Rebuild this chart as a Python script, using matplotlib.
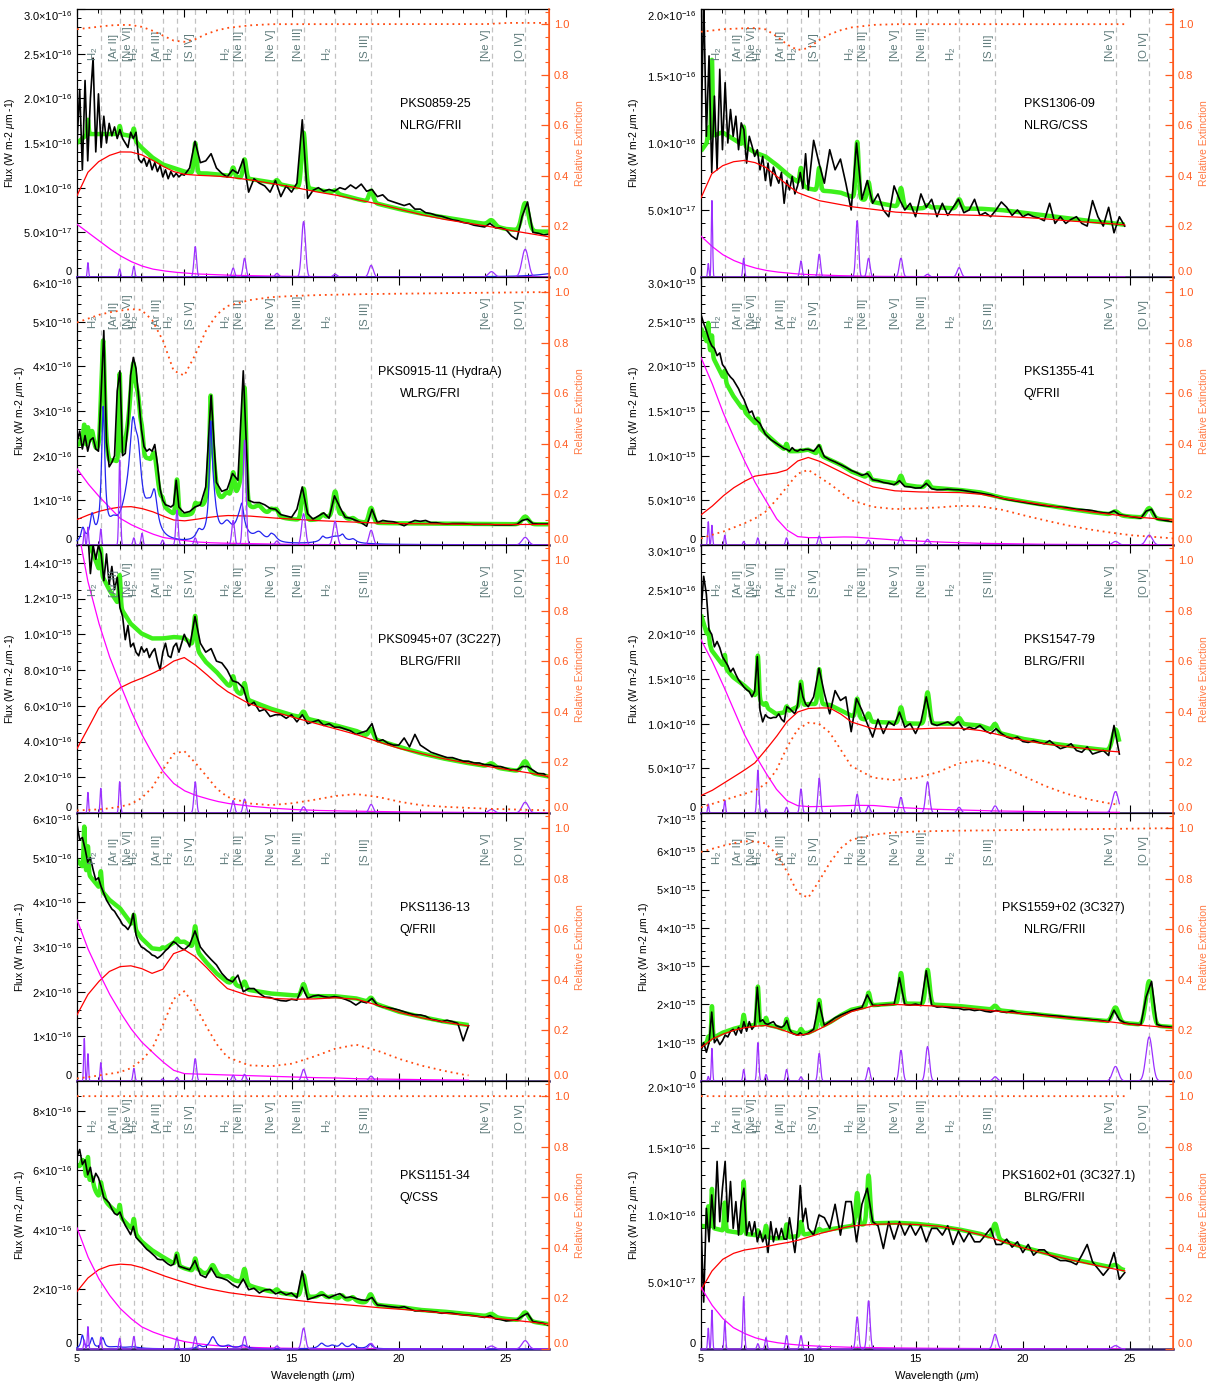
import numpy as np
import matplotlib
matplotlib.use('Agg')
import matplotlib.pyplot as plt
from matplotlib.ticker import FixedLocator, FixedFormatter, MultipleLocator
import matplotlib.transforms as mtransforms

plt.rcParams['font.family'] = ['Liberation Sans', 'DejaVu Sans']
plt.rcParams['mathtext.fontset'] = 'custom'
plt.rcParams['mathtext.rm'] = 'Liberation Sans'
plt.rcParams['mathtext.it'] = 'Liberation Sans:italic'
plt.rcParams['mathtext.bf'] = 'Liberation Sans:bold'

# ---------------- shared grids ----------------
# wavelength grid (micron) on which the smooth model components were read
W = [5, 5.5, 6, 6.5, 7, 7.5, 8, 8.5, 9, 9.5, 10, 10.5, 11, 11.5, 12,
     13, 14, 15, 16, 17, 18, 19, 20, 21, 22, 23, 24, 25, 26, 27]
# wavelength sampling of the observed (black) spectra
XB = np.concatenate([np.arange(5.0, 10.0, 0.125), np.arange(10.0, 27.001, 0.25)])

# emission lines: centre, width (sigma)
LINE_WL = [5.34, 5.51, 6.11, 6.99, 7.65, 8.03, 8.99, 9.66, 10.51, 12.28, 12.81,
           14.32, 15.56, 17.03, 18.71, 24.32, 25.89]
LINE_SIG = [0.03, 0.03, 0.035, 0.04, 0.045, 0.045, 0.05, 0.055, 0.06, 0.065, 0.07,
            0.08, 0.09, 0.095, 0.1, 0.14, 0.15]
# labelled (dashed) lines
LABEL_WL = [6.11, 6.99, 7.65, 8.03, 8.99, 9.66, 10.51, 12.28, 12.81, 14.32, 15.56,
            17.03, 18.71, 24.32, 25.89]
LABEL_TXT = ['H$_2$', '[Ar II]', '[Ne VI]', 'H$_2$', '[Ar III]', 'H$_2$', '[S IV]',
             'H$_2$', '[Ne II]', '[Ne V]', '[Ne III]', 'H$_2$', '[S III]', '[Ne V]', '[O IV]']

# ---------------- PKS0859-25 (units 1e-16) ----------------
RED_L1 = [0.91, 1.17, 1.29, 1.36, 1.40, 1.40, 1.37, 1.31, 1.24, 1.18, 1.15, 1.14, 1.135, 1.13, 1.12,
          1.09, 1.05, 1.01, 0.96, 0.92, 0.87, 0.82, 0.76, 0.70, 0.65, 0.61, 0.575, 0.53, 0.49, 0.45]
MAG_L1 = [0.59, 0.50, 0.41, 0.32, 0.24, 0.175, 0.125, 0.09, 0.07, 0.055, 0.045, 0.035, 0.03, 0.025, 0.02,
          0.015, 0.01, 0.007, 0.005, 0.004, 0.003, 0.002, 0.002, 0.001, 0.001, 0.001, 0.0, 0.0, 0.0, 0.0]
GRN_L1 = [1.5, 1.6, 1.6, 1.6, 1.6, 1.58, 1.45, 1.34, 1.26, 1.22, 1.18, 1.16, 1.16, 1.15, 1.135,
          1.10, 1.06, 1.01, 0.985, 0.94, 0.875, 0.82, 0.76, 0.71, 0.67, 0.63, 0.59, 0.53, 0.50, 0.47]
EXT_L1 = [0.98, 0.985, 0.99, 0.995, 0.997, 0.997, 0.99, 0.975, 0.955, 0.935, 0.93, 0.94, 0.96, 0.975, 0.985,
          0.995, 1.0, 1.0, 1.0, 1.0, 1.0, 1.0, 1.0, 1.0, 1.0, 1.0, 1.0, 1.005, 1.005, 1.005]
LINES_L1 = [0, 0.16, 0, 0.09, 0.12, 0, 0, 0, 0.34, 0.10, 0.21, 0.04, 0.62, 0.03, 0.13, 0.06, 0.31]
BLUE_L1 = [(28.0, 0.07, 0.08)]
BLACK_L1 = [1.5, 2.1, 1.2, 2.2, 1.3, 2.0, 2.45, 1.4,
            2.05, 1.45, 1.8, 1.5, 1.72, 1.58, 1.68, 1.55,
            1.65, 1.55, 1.5, 1.45, 1.62, 1.55, 1.62, 1.32,
            1.28, 1.33, 1.24, 1.32, 1.2, 1.28, 1.18, 1.25,
            1.12, 1.2, 1.1, 1.18, 1.12, 1.16, 1.12, 1.15,
            1.14, 1.22, 1.52, 1.28, 1.3, 1.38, 1.22, 1.16,
            1.12, 1.2, 1.16, 1.32, 0.95, 1.1, 1.05, 1.02,
            0.95, 1.08, 0.9, 1.02, 0.95, 1.05, 1.76, 0.88,
            0.97, 1.0, 0.96, 0.98, 0.96, 1.0, 0.98, 1.03,
            0.99, 1.04, 0.96, 0.98, 0.9, 0.92, 0.86, 0.84,
            0.82, 0.8, 0.82, 0.76, 0.76, 0.72, 0.71, 0.69,
            0.68, 0.66, 0.64, 0.63, 0.61, 0.6, 0.58, 0.57,
            0.56, 0.6, 0.55, 0.55, 0.53, 0.46, 0.42, 0.68,
            0.84, 0.5, 0.49, 0.47, 0.48]

# ---------------- PKS0915-11 Hydra A (units 1e-16) ----------------
RED_L2 = [0.57, 0.67, 0.75, 0.81, 0.85, 0.86, 0.82, 0.75, 0.65, 0.56, 0.54, 0.57, 0.61, 0.64, 0.66,
          0.65, 0.61, 0.58, 0.55, 0.53, 0.51, 0.49, 0.48, 0.475, 0.47, 0.465, 0.46, 0.46, 0.46, 0.46]
MAG_L2 = [1.71, 1.38, 1.10, 0.85, 0.60, 0.46, 0.35, 0.25, 0.17, 0.13, 0.10, 0.07, 0.055, 0.045, 0.04,
          0.03, 0.02, 0.015, 0.01, 0.008, 0.006, 0.005, 0.004, 0.003, 0.002, 0.002, 0.001, 0.001, 0.0, 0.0]
GRN_L2 = [2.15, 1.95, 1.65, 1.25, 1.2, 1.1, 0.95, 0.85, 0.6, 0.55, 0.55, 0.55, 0.56, 0.58, 0.62,
          0.6, 0.55, 0.53, 0.5, 0.47, 0.46, 0.47, 0.47, 0.47, 0.47, 0.466, 0.462, 0.46, 0.46, 0.46]
EXT_L2 = [0.88, 0.895, 0.91, 0.92, 0.927, 0.933, 0.93, 0.89, 0.81, 0.69, 0.67, 0.75, 0.846, 0.91, 0.945,
          0.968, 0.98, 0.985, 0.988, 0.99, 0.992, 0.993, 0.994, 0.995, 0.996, 0.997, 0.998, 0.999, 1.0, 1.0]
LINES_L2 = [0.35, 0.4, 0.36, 1.9, 0.16, 0.26, 0.11, 0.78, 0.16, 0.55, 2.35, 0.09, 0.7, 0.53, 0.33, 0, 0.17]
BLUE_L2 = [(5.27, 0.3, 0.04), (5.70, 0.55, 0.04), (6.22, 2.9, 0.03), (6.69, 0.25, 0.07),
           (7.42, 0.8, 0.12), (7.60, 1.6, 0.045), (7.85, 1.3, 0.05), (8.33, 0.35, 0.05),
           (8.61, 0.85, 0.04), (10.68, 0.2, 0.03), (11.23, 1.9, 0.012), (11.33, 1.0, 0.032),
           (11.99, 0.35, 0.045), (12.62, 0.55, 0.042), (12.69, 0.3, 0.013), (13.48, 0.2, 0.04),
           (14.04, 0.1, 0.016), (14.19, 0.12, 0.025), (16.45, 0.1, 0.014), (17.04, 0.17, 0.065),
           (17.38, 0.1, 0.012), (17.87, 0.07, 0.016)]
BLACK_L2 = [2.3, 2.55, 2.15, 2.45, 2.1, 2.35, 2.4, 2.15,
            2.1, 3.4, 4.8, 2.3, 1.75, 1.85, 2.0, 3.45,
            3.9, 2.0, 2.05, 2.7, 3.8, 4.2, 3.95, 3.3,
            2.6, 2.2, 2.1, 2.15, 2.1, 2.25, 1.8, 1.25,
            1.0, 0.9, 0.88, 0.85, 0.9, 1.45, 0.85, 0.78,
            0.72, 0.75, 0.85, 0.9, 1.3, 3.35, 1.4, 1.2,
            1.25, 1.6, 1.45, 3.9, 1.0, 0.95, 0.95, 0.9,
            0.82, 0.8, 0.68, 0.65, 0.62, 0.8, 1.3, 0.7,
            0.58, 0.65, 0.72, 0.6, 1.1, 0.85, 0.62, 0.6,
            0.55, 0.5, 0.42, 0.8, 0.5, 0.55, 0.53, 0.52,
            0.48, 0.43, 0.5, 0.55, 0.53, 0.55, 0.5, 0.5,
            0.48, 0.47, 0.48, 0.48, 0.48, 0.47, 0.46, 0.46,
            0.46, 0.46, 0.45, 0.45, 0.45, 0.45, 0.46, 0.55,
            0.58, 0.48, 0.47, 0.47, 0.47]

# ---------------- PKS0945+07 3C227 (units 1e-15) ----------------
RED_L3 = [0.36, 0.47, 0.585, 0.65, 0.70, 0.73, 0.753, 0.78, 0.81, 0.85, 0.87, 0.83, 0.78, 0.725, 0.68,
          0.613, 0.572, 0.539, 0.505, 0.473, 0.44, 0.40, 0.362, 0.334, 0.306, 0.283, 0.263, 0.244, 0.226, 0.203]
MAG_L3 = [1.62, 1.30, 1.07, 0.88, 0.725, 0.576, 0.445, 0.334, 0.235, 0.166, 0.125, 0.10, 0.082, 0.066, 0.054,
          0.039, 0.028, 0.02, 0.015, 0.012, 0.01, 0.008, 0.006, 0.005, 0.004, 0.003, 0.002, 0.002, 0.001, 0.001]
GRN_L3 = [1.62, 1.53, 1.37, 1.25, 1.155, 1.06, 1.005, 0.977, 0.977, 0.985, 0.98, 0.93, 0.846, 0.79, 0.72,
          0.632, 0.585, 0.548, 0.52, 0.492, 0.46, 0.408, 0.371, 0.335, 0.307, 0.284, 0.264, 0.245, 0.227, 0.204]
EXT_L3 = [0.01, 0.012, 0.014, 0.018, 0.025, 0.035, 0.058, 0.10, 0.17, 0.234, 0.245, 0.20, 0.15, 0.097, 0.064,
          0.038, 0.031, 0.038, 0.051, 0.067, 0.075, 0.064, 0.045, 0.031, 0.025, 0.021, 0.017, 0.015, 0.013, 0.01]
LINES_L3 = [0, 0.115, 0.138, 0.175, 0, 0, 0, 0, 0.175, 0.07, 0.078, 0, 0.035, 0, 0.048, 0.02, 0.06]
BLUE_L3 = []
BLACK_L3 = [1.7, 1.65, 1.75, 1.62, 1.58, 1.34, 1.5, 1.42,
            1.5, 1.45, 1.3, 1.45, 1.28, 1.38, 1.25, 1.32,
            1.15, 1.1, 0.97, 1.05, 0.93, 0.95, 0.9, 0.88,
            0.93, 0.9, 0.92, 0.87, 0.9, 0.92, 0.85, 0.80,
            0.9, 0.95, 0.88, 0.87, 0.93, 0.95, 0.9, 0.95,
            1.0, 0.93, 1.1, 0.95, 0.9, 0.92, 0.85, 0.84,
            0.8, 0.74, 0.73, 0.70, 0.6, 0.62, 0.57, 0.58,
            0.54, 0.55, 0.55, 0.53, 0.55, 0.51, 0.55, 0.5,
            0.51, 0.52, 0.49, 0.5, 0.48, 0.48, 0.47, 0.46,
            0.44, 0.45, 0.46, 0.5, 0.4, 0.41, 0.39, 0.38,
            0.38, 0.42, 0.37, 0.44, 0.38, 0.36, 0.34, 0.33,
            0.32, 0.31, 0.31, 0.3, 0.29, 0.29, 0.28, 0.28,
            0.27, 0.27, 0.26, 0.26, 0.25, 0.24, 0.24, 0.26,
            0.26, 0.24, 0.22, 0.22, 0.2]

# ---------------- PKS1136-13 (units 1e-16) ----------------
RED_L4 = [1.48, 1.93, 2.22, 2.45, 2.56, 2.58, 2.52, 2.41, 2.5, 2.85, 2.94, 2.79, 2.56, 2.30, 2.07,
          1.91, 1.85, 1.83, 1.835, 1.865, 1.835, 1.70, 1.54, 1.42, 1.33, 1.25, 1.18]
MAG_L4 = [3.61, 2.97, 2.45, 1.96, 1.55, 1.18, 0.88, 0.65, 0.43, 0.24, 0.165, 0.157, 0.15, 0.142, 0.135,
          0.12, 0.105, 0.09, 0.075, 0.07, 0.05, 0.045, 0.04, 0.03, 0.025, 0.02, 0.018]
GRN_L4 = [4.95, 4.65, 4.35, 4.06, 3.87, 3.54, 3.2, 2.97, 2.94, 3.1, 3.12, 2.97, 2.67, 2.41, 2.22,
          2.04, 1.96, 1.92, 1.90, 1.90, 1.85, 1.715, 1.55, 1.44, 1.34, 1.27, 1.2]
EXT_L4 = [0.01, 0.015, 0.022, 0.028, 0.035, 0.05, 0.081, 0.127, 0.22, 0.324, 0.355, 0.298, 0.22, 0.147, 0.095,
          0.062, 0.058, 0.068, 0.095, 0.127, 0.144, 0.12, 0.088, 0.062, 0.042, 0.025, 0.015]
LINES_L4 = [0.95, 0.61, 0.41, 0, 0.28, 0, 0.05, 0.08, 0.50, 0.13, 0.15, 0, 0.26, 0, 0.11, 0, 0]
BLUE_L4 = []
BLACK_L4 = [5.75, 5.4, 5.45, 5.2, 4.9, 5.0, 4.73, 4.5,
            4.55, 4.35, 4.2, 4.05, 3.95, 3.85, 3.8, 3.7,
            3.61, 3.5, 3.46, 3.39, 3.5, 3.75, 3.27, 3.1,
            3.0, 2.97, 2.92, 2.88, 2.82, 2.8, 2.75, 2.79,
            2.85, 2.92, 2.97, 3.05, 3.12, 3.08, 3.02, 2.97,
            2.94, 3.05, 3.36, 3.0, 2.85, 2.72, 2.6, 2.41,
            2.28, 2.22, 2.37, 2.0, 2.07, 2.07, 1.96, 1.88,
            1.87, 1.83, 1.8, 1.79, 1.83, 1.81, 2.1, 1.85,
            1.9, 1.92, 1.89, 1.87, 1.89, 1.87, 1.83, 1.78,
            1.7, 1.78, 1.75, 1.85, 1.70, 1.66, 1.64, 1.62,
            1.59, 1.55, 1.51, 1.48, 1.48, 1.45, 1.38, 1.36,
            1.33, 1.36, 1.33, 1.29, 0.9, 1.24]

# ---------------- PKS1151-34 (units 1e-16) ----------------
RED_L5 = [1.93, 2.38, 2.66, 2.80, 2.85, 2.83, 2.74, 2.61, 2.47, 2.35, 2.24, 2.13, 2.04, 1.97, 1.90,
          1.80, 1.73, 1.65, 1.57, 1.52, 1.46, 1.39, 1.34, 1.28, 1.21, 1.15, 1.07, 0.99, 0.92, 0.83]
MAG_L5 = [4.07, 3.11, 2.38, 1.82, 1.37, 1.03, 0.75, 0.58, 0.45, 0.34, 0.25, 0.19, 0.146, 0.11, 0.09,
          0.056, 0.034, 0.022, 0.015, 0.01, 0.007, 0.005, 0.004, 0.003, 0.002, 0.002, 0.001, 0.001, 0.0, 0.0]
GRN_L5 = [6.15, 5.6, 5.05, 4.75, 4.4, 4.0, 3.58, 3.3, 3.08, 2.87, 2.7, 2.58, 2.45, 2.38, 2.32,
          2.1, 1.93, 1.82, 1.72, 1.62, 1.56, 1.46, 1.41, 1.31, 1.26, 1.19, 1.11, 1.01, 0.94, 0.83]
EXT_L5 = [1.0, 1.0, 1.0, 1.0, 1.0, 1.0, 1.0, 1.0, 1.0, 1.0, 1.0, 1.0, 1.0, 1.0, 1.0,
          1.0, 1.0, 1.0, 1.0, 1.0, 1.0, 1.0, 1.0, 1.0, 1.0, 1.0, 1.0, 1.0, 1.0, 1.0]
LINES_L5 = [0.3, 0.75, 0.4, 0.36, 0.42, 0, 0, 0.38, 0.42, 0, 0.42, 0.1, 0.7, 0, 0.19, 0.1, 0.28]
BLUE_L5 = [(5.25, 0.45, 0.03), (5.70, 0.35, 0.03), (6.2, 0.35, 0.03), (6.8, 0.06, 0.1), (7.6, 0.06, 0.1),
           (10.7, 0.1, 0.02), (11.33, 0.4, 0.03), (12.05, 0.1, 0.03), (12.75, 0.12, 0.03),
           (16.4, 0.18, 0.02), (16.9, 0.1, 0.02), (17.35, 0.17, 0.015), (17.85, 0.15, 0.015),
           (18.65, 0.16, 0.015)]
BLACK_L5 = [6.45, 6.7, 6.2, 6.35, 5.85, 6.1, 5.6, 5.9,
            5.75, 5.45, 5.08, 5.0, 4.9, 4.7, 4.55, 4.5,
            4.6, 4.35, 4.15, 4.0, 3.84, 4.12, 3.75, 3.65,
            3.56, 3.45, 3.35, 3.28, 3.2, 3.12, 3.02, 3.0,
            3.0, 2.92, 2.85, 2.8, 2.85, 3.17, 2.78, 2.75,
            2.72, 2.66, 2.97, 2.49, 2.4, 2.72, 2.42, 2.38,
            2.31, 2.16, 2.06, 2.35, 1.99, 2.04, 1.88, 1.98,
            2.0, 1.85, 1.92, 1.82, 1.88, 1.72, 2.62, 1.66,
            1.72, 1.79, 1.82, 1.72, 1.8, 1.86, 1.72, 1.75,
            1.7, 1.65, 1.63, 1.73, 1.48, 1.46, 1.43, 1.41,
            1.39, 1.42, 1.35, 1.28, 1.29, 1.27, 1.26, 1.24,
            1.2, 1.21, 1.2, 1.17, 1.15, 1.14, 1.12, 1.09,
            1.06, 1.12, 1.01, 0.99, 0.94, 0.96, 0.98, 1.1,
            1.2, 0.92, 0.89, 0.86, 0.79]

# ---------------- PKS1306-09 (units 1e-16) ----------------
RED_R1 = [0.59, 0.77, 0.83, 0.86, 0.87, 0.855, 0.82, 0.755, 0.69, 0.63, 0.60, 0.57, 0.555, 0.54, 0.525,
          0.505, 0.485, 0.475, 0.468, 0.463, 0.46, 0.453, 0.445, 0.435, 0.42, 0.41, 0.40, 0.385]
MAG_R1 = [0.305, 0.23, 0.168, 0.125, 0.093, 0.068, 0.05, 0.038, 0.03, 0.023, 0.018, 0.015, 0.012, 0.01, 0.008,
          0.005, 0.004, 0.003, 0.002, 0.002, 0.001, 0.001, 0.001, 0.0, 0.0, 0.0, 0.0, 0.0]
GRN_R1 = [0.94, 1.05, 1.08, 1.03, 0.98, 0.93, 0.9, 0.84, 0.77, 0.71, 0.66, 0.645, 0.64, 0.63, 0.6,
          0.56, 0.53, 0.51, 0.52, 0.51, 0.51, 0.5, 0.48, 0.46, 0.44, 0.42, 0.405, 0.385]
EXT_R1 = [0.97, 0.975, 0.98, 0.982, 0.984, 0.985, 0.98, 0.954, 0.92, 0.898, 0.905, 0.937, 0.96, 0.976, 0.987,
          0.997, 1.0, 1.0, 1.0, 1.0, 1.0, 1.0, 1.0, 1.0, 1.0, 1.0, 1.0, 1.0]
LINES_R1 = [0.1, 0.57, 0, 0.14, 0, 0, 0, 0.12, 0.17, 0.42, 0.14, 0.14, 0.02, 0.07, 0, 0, 0]
BLUE_R1 = []
BLACK_R1 = [0.95, 2.1, 1.05, 1.65, 0.78, 1.35, 0.8, 1.55,
            0.95, 1.45, 1.0, 1.25, 1.05, 1.2, 0.95, 1.15,
            1.1, 0.85, 1.05, 0.98, 0.9, 0.95, 0.8, 0.9,
            0.72, 0.85, 0.68, 0.82, 0.75, 0.7, 0.78, 0.55,
            0.72, 0.65, 0.75, 0.62, 0.68, 0.78, 0.66, 0.92,
            0.65, 1.02, 0.85, 0.7, 0.95, 0.8, 0.88, 0.7,
            0.5, 1.0, 0.58, 0.72, 0.55, 0.62, 0.5, 0.45,
            0.68, 0.58, 0.5, 0.55, 0.45, 0.62, 0.52, 0.58,
            0.45, 0.55, 0.46, 0.52, 0.58, 0.48, 0.5, 0.58,
            0.46, 0.48, 0.45, 0.5, 0.56, 0.52, 0.46, 0.5,
            0.45, 0.47, 0.45, 0.44, 0.42, 0.55, 0.4, 0.45,
            0.4, 0.43, 0.45, 0.4, 0.38, 0.57, 0.45, 0.38,
            0.52, 0.33, 0.45, 0.38]

# ---------------- PKS1355-41 (units 1e-15) ----------------
RED_R2 = [0.337, 0.43, 0.543, 0.637, 0.71, 0.77, 0.79, 0.805, 0.84, 0.94, 0.98, 0.94, 0.88, 0.82, 0.76,
          0.65, 0.607, 0.595, 0.59, 0.588, 0.57, 0.524, 0.487, 0.45, 0.41, 0.375, 0.345, 0.318, 0.30, 0.28]
MAG_R2 = [2.1, 1.82, 1.50, 1.22, 0.955, 0.71, 0.506, 0.30, 0.169, 0.094, 0.082, 0.082, 0.086, 0.09, 0.09,
          0.075, 0.056, 0.045, 0.034, 0.026, 0.019, 0.015, 0.011, 0.008, 0.006, 0.005, 0.004, 0.003, 0.002, 0.002]
GRN_R2 = [2.43, 2.13, 1.89, 1.67, 1.50, 1.37, 1.25, 1.14, 1.05, 1.05, 1.067, 1.01, 0.955, 0.90, 0.824,
          0.73, 0.693, 0.655, 0.637, 0.618, 0.59, 0.53, 0.487, 0.45, 0.41, 0.375, 0.345, 0.318, 0.30, 0.273]
EXT_R2 = [0.026, 0.04, 0.052, 0.068, 0.085, 0.104, 0.131, 0.177, 0.229, 0.282, 0.297, 0.269, 0.242, 0.21, 0.177,
          0.151, 0.142, 0.144, 0.148, 0.155, 0.153, 0.14, 0.118, 0.098, 0.079, 0.063, 0.05, 0.039, 0.033, 0.026]
LINES_R2 = [0.26, 0.22, 0.11, 0.04, 0.08, 0, 0.08, 0, 0.1, 0, 0.056, 0.094, 0.064, 0, 0, 0.04, 0.11]
BLUE_R2 = []
BLACK_R2 = [2.58, 2.48, 2.4, 2.3, 2.23, 2.2, 2.12, 2.15,
            2.02, 1.98, 1.92, 1.88, 1.85, 1.8, 1.75, 1.68,
            1.63, 1.55, 1.48, 1.5, 1.42, 1.39, 1.36, 1.3,
            1.24, 1.21, 1.18, 1.16, 1.14, 1.12, 1.1, 1.08,
            1.07, 1.05, 1.09, 1.06, 1.05, 1.07, 1.06, 1.07,
            1.07, 1.05, 1.12, 0.99, 0.955, 0.93, 0.9, 0.87,
            0.835, 0.81, 0.78, 0.8, 0.73, 0.72, 0.70, 0.69,
            0.674, 0.72, 0.655, 0.65, 0.637, 0.64, 0.69, 0.63,
            0.618, 0.62, 0.625, 0.62, 0.618, 0.61, 0.6, 0.59,
            0.58, 0.57, 0.56, 0.54, 0.524, 0.51, 0.5, 0.49,
            0.48, 0.47, 0.46, 0.45, 0.442, 0.435, 0.43, 0.425,
            0.42, 0.41, 0.40, 0.397, 0.393, 0.385, 0.37, 0.36,
            0.356, 0.382, 0.34, 0.33, 0.318, 0.31, 0.30, 0.38,
            0.40, 0.29, 0.28, 0.27, 0.262]

# ---------------- PKS1547-79 (units 1e-16) ----------------
RED_R3 = [0.195, 0.25, 0.326, 0.40, 0.476, 0.558, 0.70, 0.85, 1.02, 1.13, 1.17, 1.176, 1.176, 1.11, 1.02,
          0.944, 0.936, 0.94, 0.951, 0.951, 0.925, 0.87, 0.813, 0.775, 0.745, 0.72, 0.693, 0.675]
MAG_R3 = [1.94, 1.71, 1.45, 1.17, 0.89, 0.66, 0.457, 0.27, 0.139, 0.082, 0.071, 0.072, 0.075, 0.08, 0.086,
          0.085, 0.064, 0.052, 0.041, 0.034, 0.026, 0.022, 0.019, 0.015, 0.012, 0.01, 0.008, 0.007]
GRN_R3 = [2.22, 1.82, 1.66, 1.52, 1.43, 1.32, 1.19, 1.11, 1.13, 1.19, 1.22, 1.22, 1.21, 1.15, 1.09,
          1.02, 1.01, 1.0, 1.0, 1.0, 0.98, 0.89, 0.83, 0.79, 0.757, 0.727, 0.70, 0.685]
EXT_R3 = [0.022, 0.035, 0.049, 0.062, 0.075, 0.088, 0.114, 0.167, 0.259, 0.33, 0.357, 0.353, 0.318, 0.252, 0.186,
          0.14, 0.13, 0.138, 0.16, 0.196, 0.209, 0.186, 0.147, 0.108, 0.077, 0.055, 0.038, 0.027]
LINES_R3 = [0.1, 0, 0.14, 0, 0.48, 0.045, 0.064, 0.27, 0.39, 0.21, 0.08, 0.176, 0.35, 0.064, 0.08, 0.24, 0]
BLUE_R3 = []
BLACK_R3 = [2.24, 2.65, 2.45, 2.05, 2.0, 1.86, 1.92, 1.85,
            1.75, 1.7, 1.65, 1.58, 1.62, 1.55, 1.49, 1.45,
            1.41, 1.38, 1.36, 1.3, 1.36, 1.75, 1.15, 1.02,
            1.1, 1.07, 1.06, 1.07, 1.07, 1.11, 1.05, 1.02,
            1.19, 1.17, 1.14, 1.11, 1.2, 1.45, 1.3, 1.22,
            1.19, 1.3, 1.62, 1.34, 1.11, 1.37, 1.26, 1.3,
            0.91, 1.28, 1.15, 1.0, 0.85, 1.05, 0.89, 1.02,
            0.98, 1.13, 0.96, 1.0, 0.89, 1.02, 1.3, 1.0,
            0.98, 1.0, 1.02, 0.98, 1.02, 0.93, 0.96, 0.94,
            0.98, 0.92, 0.89, 0.944, 0.89, 0.85, 0.83, 0.85,
            0.8, 0.79, 0.81, 0.79, 0.775, 0.81, 0.76, 0.72,
            0.74, 0.775, 0.7, 0.68, 0.74, 0.66, 0.68, 0.70,
            0.644, 0.98, 0.66]

# ---------------- PKS1559+02 3C327 (units 1e-15) ----------------
RED_R4 = [0.87, 1.09, 1.22, 1.32, 1.39, 1.43, 1.45, 1.39, 1.29, 1.19, 1.23, 1.35, 1.50, 1.67, 1.81,
          1.96, 2.0, 1.98, 1.96, 1.93, 1.87, 1.81, 1.76, 1.70, 1.65, 1.60, 1.55, 1.48, 1.43, 1.39]
MAG_R4 = None
GRN_R4 = [0.91, 1.1, 1.26, 1.36, 1.43, 1.46, 1.48, 1.42, 1.32, 1.24, 1.26, 1.39, 1.53, 1.71, 1.86,
          1.98, 2.02, 2.02, 1.99, 1.96, 1.90, 1.84, 1.78, 1.72, 1.66, 1.61, 1.56, 1.50, 1.45, 1.41]
EXT_R4 = [0.906, 0.918, 0.93, 0.94, 0.948, 0.948, 0.94, 0.90, 0.83, 0.745, 0.725, 0.79, 0.863, 0.92, 0.954,
          0.974, 0.983, 0.987, 0.989, 0.99, 0.991, 0.992, 0.993, 0.994, 0.995, 0.996, 0.997, 0.998, 0.999, 1.0]
LINES_R4 = [0.12, 0.85, 0, 0.3, 1.0, 0.17, 0.3, 0.11, 0.72, 0, 0.35, 0.8, 0.9, 0, 0.11, 0.38, 1.15]
BLUE_R4 = []
BLACK_R4 = [0.78, 1.0, 0.75, 1.0, 1.8, 1.0, 1.1, 0.95,
            1.05, 1.2, 1.15, 1.3, 1.35, 1.2, 1.4, 1.25,
            1.55, 1.3, 1.55, 1.35, 1.45, 2.45, 1.55, 1.6,
            1.5, 1.48, 1.52, 1.55, 1.45, 1.42, 1.4, 1.45,
            1.58, 1.35, 1.25, 1.22, 1.2, 1.26, 1.2, 1.22,
            1.25, 1.35, 2.05, 1.45, 1.55, 1.65, 1.72, 1.78,
            1.84, 1.88, 1.92, 2.25, 1.98, 1.97, 1.99, 2.0,
            2.0, 2.7, 2.0, 1.98, 2.01, 1.97, 2.88, 1.98,
            1.93, 1.94, 1.92, 1.9, 1.9, 1.86, 1.87, 1.84,
            1.86, 1.82, 1.8, 1.84, 1.81, 1.79, 1.83, 1.78,
            1.76, 1.75, 1.76, 1.74, 1.72, 1.71, 1.7, 1.69,
            1.67, 1.66, 1.64, 1.63, 1.62, 1.6, 1.59, 1.57,
            1.55, 1.85, 1.6, 1.52, 1.49, 1.48, 1.47, 2.2,
            2.6, 1.48, 1.43, 1.42, 1.4]

# ---------------- PKS1602+01 3C327.1 (units 1e-16) ----------------
RED_R5 = [0.44, 0.58, 0.668, 0.713, 0.738, 0.75, 0.763, 0.78, 0.793, 0.81, 0.835, 0.86, 0.88, 0.90, 0.918,
          0.93, 0.935, 0.93, 0.918, 0.893, 0.855, 0.805, 0.755, 0.713, 0.673, 0.638, 0.605, 0.575]
MAG_R5 = [0.46, 0.33, 0.23, 0.16, 0.118, 0.085, 0.063, 0.048, 0.038, 0.03, 0.025, 0.021, 0.018, 0.015, 0.013,
          0.01, 0.008, 0.006, 0.005, 0.004, 0.003, 0.002, 0.002, 0.001, 0.001, 0.001, 0.001, 0.001]
GRN_R5 = [0.92, 0.905, 0.885, 0.875, 0.86, 0.85, 0.835, 0.825, 0.83, 0.843, 0.86, 0.875, 0.893, 0.905, 0.918,
          0.938, 0.943, 0.935, 0.918, 0.893, 0.86, 0.81, 0.76, 0.718, 0.68, 0.648, 0.613, 0.58]
EXT_R5 = [1.0, 1.0, 1.0, 1.0, 1.0, 1.0, 1.0, 1.0, 1.0, 1.0, 1.0, 1.0, 1.0, 1.0,
          1.0, 1.0, 1.0, 1.0, 1.0, 1.0, 1.0, 1.0, 1.0, 1.0, 1.0, 1.0, 1.0, 1.0]
LINES_R5 = [0.155, 0.29, 0.21, 0.39, 0.04, 0.085, 0.1, 0.1, 0.02, 0.24, 0.36, 0, 0, 0, 0.11, 0.025, 0]
BLUE_R5 = []
BLACK_R5 = [0.95, 0.35, 1.05, 0.8, 1.15, 0.9, 1.4, 0.95,
            1.2, 1.4, 0.95, 1.25, 0.9, 1.1, 0.85, 1.1,
            1.2, 0.85, 0.95, 0.85, 0.95, 0.8, 0.88, 0.8,
            0.85, 0.72, 0.95, 0.8, 0.9, 0.82, 0.9, 0.82,
            0.82, 0.98, 0.85, 0.72, 0.9, 1.22, 0.95, 1.05,
            0.9, 0.85, 1.0, 0.98, 0.9, 1.08, 0.85, 1.1,
            1.1, 0.8, 1.08, 1.2, 0.95, 0.92, 0.75, 0.95,
            0.82, 0.95, 0.85, 0.93, 0.85, 0.92, 0.8, 0.9,
            0.9, 0.85, 0.92, 0.78, 0.88, 0.8, 0.87, 0.8,
            0.8, 0.85, 0.9, 0.78, 0.78, 0.82, 0.76, 0.8,
            0.72, 0.78, 0.7, 0.74, 0.74, 0.7, 0.68, 0.66,
            0.66, 0.65, 0.63, 0.7, 0.78, 0.65, 0.6, 0.55,
            0.6, 0.72, 0.52, 0.57]

# ---------------- panel layout / labels ----------------
PANELS = [
    dict(row=0, col=0, name='PKS0859-25', cls='NLRG/FRII', unit=1e-16, top=3.0, step=0.5, nmin=5, dec=1, end=27.0,
         red=RED_L1, mag=MAG_L1, grn=GRN_L1, ext=EXT_L1, lines=LINES_L1, blue=BLUE_L1, black=BLACK_L1),
    dict(row=1, col=0, name='PKS0915-11 (HydraA)', cls='WLRG/FRI', unit=1e-16, top=6.0, step=1.0, nmin=5, dec=0, end=27.0,
         red=RED_L2, mag=MAG_L2, grn=GRN_L2, ext=EXT_L2, lines=LINES_L2, blue=BLUE_L2, black=BLACK_L2),
    dict(row=2, col=0, name='PKS0945+07 (3C227)', cls='BLRG/FRII', unit=1e-15, top=1.5, step=0.2, nmin=4, dec=1, end=27.0,
         red=RED_L3, mag=MAG_L3, grn=GRN_L3, ext=EXT_L3, lines=LINES_L3, blue=BLUE_L3, black=BLACK_L3),
    dict(row=3, col=0, name='PKS1136-13', cls='Q/FRII', unit=1e-16, top=6.0, step=1.0, nmin=5, dec=0, end=23.25,
         red=RED_L4, mag=MAG_L4, grn=GRN_L4, ext=EXT_L4, lines=LINES_L4, blue=BLUE_L4, black=BLACK_L4),
    dict(row=4, col=0, name='PKS1151-34', cls='Q/CSS', unit=1e-16, top=9.0, step=2.0, nmin=4, dec=0, end=27.0,
         red=RED_L5, mag=MAG_L5, grn=GRN_L5, ext=EXT_L5, lines=LINES_L5, blue=BLUE_L5, black=BLACK_L5),
    dict(row=0, col=1, name='PKS1306-09', cls='NLRG/CSS', unit=1e-16, top=2.0, step=0.5, nmin=5, dec=1, end=24.75,
         red=RED_R1, mag=MAG_R1, grn=GRN_R1, ext=EXT_R1, lines=LINES_R1, blue=BLUE_R1, black=BLACK_R1),
    dict(row=1, col=1, name='PKS1355-41', cls='Q/FRII', unit=1e-15, top=3.0, step=0.5, nmin=5, dec=1, end=27.0,
         red=RED_R2, mag=MAG_R2, grn=GRN_R2, ext=EXT_R2, lines=LINES_R2, blue=BLUE_R2, black=BLACK_R2),
    dict(row=2, col=1, name='PKS1547-79', cls='BLRG/FRII', unit=1e-16, top=3.0, step=0.5, nmin=5, dec=1, end=24.5,
         red=RED_R3, mag=MAG_R3, grn=GRN_R3, ext=EXT_R3, lines=LINES_R3, blue=BLUE_R3, black=BLACK_R3),
    dict(row=3, col=1, name='PKS1559+02 (3C327)', cls='NLRG/FRII', unit=1e-15, top=7.0, step=1.0, nmin=5, dec=0, end=27.0,
         red=RED_R4, mag=MAG_R4, grn=GRN_R4, ext=EXT_R4, lines=LINES_R4, blue=BLUE_R4, black=BLACK_R4),
    dict(row=4, col=1, name='PKS1602+01 (3C327.1)', cls='BLRG/FRII', unit=1e-16, top=2.0, step=0.5, nmin=5, dec=1, end=24.75,
         red=RED_R5, mag=MAG_R5, grn=GRN_R5, ext=EXT_R5, lines=LINES_R5, blue=BLUE_R5, black=BLACK_R5),
]

C_GREEN = '#3DF01A'
C_PURPLE = '#9B30FF'
C_BLUE = '#2424F0'
C_MAG = '#FF00FF'
C_ORANGE = '#FF5A1E'
C_ORANGE_L = '#FF7A45'
C_LABEL = '#5F7B7B'
C_DASH = '#C2C2C2'
C_BASE = '#2E1C66'

FIG_W, FIG_H = 1212, 1387
PANEL_H = 268
TOP0 = 9
COL_X = [77, 701]
COL_W = 472


def drude(x, c, h, g):
    return h * g ** 2 / ((x / c - c / x) ** 2 + g ** 2)


def sci_label(val, dec):
    if abs(val) < 1e-30:
        return '0'
    e = int(np.floor(np.log10(val) + 1e-9))
    m = val / 10.0 ** e
    return f'{m:.{dec}f}' + r'$\times$10$^{' + str(e) + '}$'


fig = plt.figure(figsize=(FIG_W / 100, FIG_H / 100), dpi=100)

for p in PANELS:
    top_px = TOP0 + PANEL_H * p['row']
    rect = [COL_X[p['col']] / FIG_W, 1 - (top_px + PANEL_H) / FIG_H, COL_W / FIG_W, PANEL_H / FIG_H]
    ax = fig.add_axes(rect)
    unit = p['unit']
    end = p['end']
    xf = np.arange(5.0, end + 1e-6, 0.01)

    def comp(arr):
        a = np.asarray(arr, dtype=float)
        return np.interp(xf, np.asarray(W[:len(a)], dtype=float), a)

    lines = np.zeros_like(xf)
    for c, s, h in zip(LINE_WL, LINE_SIG, p['lines']):
        if h > 0:
            lines += h * np.exp(-0.5 * ((xf - c) / s) ** 2)
    blue = np.zeros_like(xf)
    for c, h, g in p['blue']:
        blue += drude(xf, c, h, g)
    red = comp(p['red'])
    green = comp(p['grn']) + lines + blue

    # dashed line markers
    for wl in LABEL_WL:
        ax.axvline(wl, color=C_DASH, lw=0.9, ls=(0, (4, 3)), zorder=1)
    trans = mtransforms.blended_transform_factory(ax.transData, ax.transAxes)
    for wl, txt in zip(LABEL_WL, LABEL_TXT):
        ax.text(wl - 0.03, 0.805, txt, transform=trans, rotation=90, ha='right', va='bottom',
                fontsize=8.2, color=C_LABEL, zorder=6)

    ax.plot(xf, green * unit, color=C_GREEN, lw=3.2, zorder=2, solid_capstyle='butt')
    nb = len(p['black'])
    ax.plot(XB[:nb], np.asarray(p['black']) * unit, color='black', lw=1.2, zorder=3)
    ax.plot(xf, red * unit, color='red', lw=0.9, zorder=4)
    if p['mag'] is not None:
        ax.plot(xf, comp(p['mag']) * unit, color=C_MAG, lw=0.9, zorder=4)
    if len(p['blue']) > 0:
        ax.plot(xf, blue * unit, color=C_BLUE, lw=0.9, zorder=4, clip_on=False)
    ax.plot(xf, lines * unit, color=C_PURPLE, lw=0.9, zorder=5, clip_on=False)

    # axes formatting
    ax.set_xlim(5, 27)
    ax.set_ylim(0, p['top'] * unit)
    nmaj = int(round(p['top'] / p['step'])) + 1
    major = [k * p['step'] for k in range(nmaj) if k * p['step'] <= p['top'] + 1e-9]
    minor_step = p['step'] / p['nmin']
    nminor = int(round(p['top'] / minor_step)) + 1
    minor = [k * minor_step * unit for k in range(nminor)]
    ax.yaxis.set_major_locator(FixedLocator([v * unit for v in major]))
    ax.yaxis.set_major_formatter(FixedFormatter([sci_label(v * unit, p['dec']) for v in major]))
    ax.yaxis.set_minor_locator(FixedLocator(minor))
    ax.xaxis.set_major_locator(FixedLocator([5, 10, 15, 20, 25]))
    ax.xaxis.set_minor_locator(MultipleLocator(1))
    ax.tick_params(axis='both', which='major', direction='in', length=6, width=0.8,
                   top=True, right=True, labelsize=8)
    ax.tick_params(axis='both', which='minor', direction='in', length=3, width=0.7,
                   top=True, right=True)
    # keep the bottom "0" label above its tick and the top label below its tick
    yt = ax.yaxis.get_major_ticks(len(major))
    yt[0].label1.set_verticalalignment('bottom')
    if abs(major[-1] - p['top']) < 1e-9:
        yt[-1].label1.set_verticalalignment('top')

    ax.spines['right'].set_color(C_ORANGE)
    ax.spines['bottom'].set_color(C_BASE)
    ax.spines['bottom'].set_linewidth(1.8)
    for s in ['left', 'top']:
        ax.spines[s].set_linewidth(0.9)
    ax.set_ylabel(r'Flux (W m-2 $\mu$m -1)', fontsize=7.5)
    if p['row'] == 4:
        ax.set_xlabel(r'Wavelength ($\mu$m)', fontsize=8)
    else:
        ax.tick_params(axis='x', labelbottom=False)

    name_x = 0.638 if len(p['name']) > 12 else 0.684
    ax.text(name_x, 0.645, p['name'], transform=ax.transAxes, fontsize=9, ha='left', va='center')
    ax.text(0.684, 0.565, p['cls'], transform=ax.transAxes, fontsize=9, ha='left', va='center')

    # relative extinction axis
    ax2 = ax.twinx()
    ax2.set_ylim(0, 1.06)
    ax2.plot(xf, comp(p['ext']), color='#FF4A10', lw=1.3, ls=(0, (1, 2.2)), zorder=3)
    ext_ticks = [0, 0.2, 0.4, 0.6, 0.8, 1.0]
    ax2.yaxis.set_major_locator(FixedLocator(ext_ticks))
    ax2.yaxis.set_major_formatter(FixedFormatter(['0.0', '0.2', '0.4', '0.6', '0.8', '1.0']))
    ax2.yaxis.set_minor_locator(MultipleLocator(0.05))
    ax2.tick_params(axis='y', which='major', direction='in', length=6, width=0.9,
                    colors=C_ORANGE, labelsize=8)
    ax2.tick_params(axis='y', which='minor', direction='in', length=3, width=0.8, colors=C_ORANGE)
    et = ax2.yaxis.get_major_ticks(len(ext_ticks))
    et[0].label2.set_verticalalignment('bottom')
    for s in ['left', 'top', 'bottom']:
        ax2.spines[s].set_visible(False)
    ax2.spines['right'].set_color(C_ORANGE)
    ax2.spines['right'].set_linewidth(1.1)
    ax2.set_ylabel('Relative Extinction', color=C_ORANGE_L, fontsize=7.5)

fig.savefig('out.png', dpi=100)
